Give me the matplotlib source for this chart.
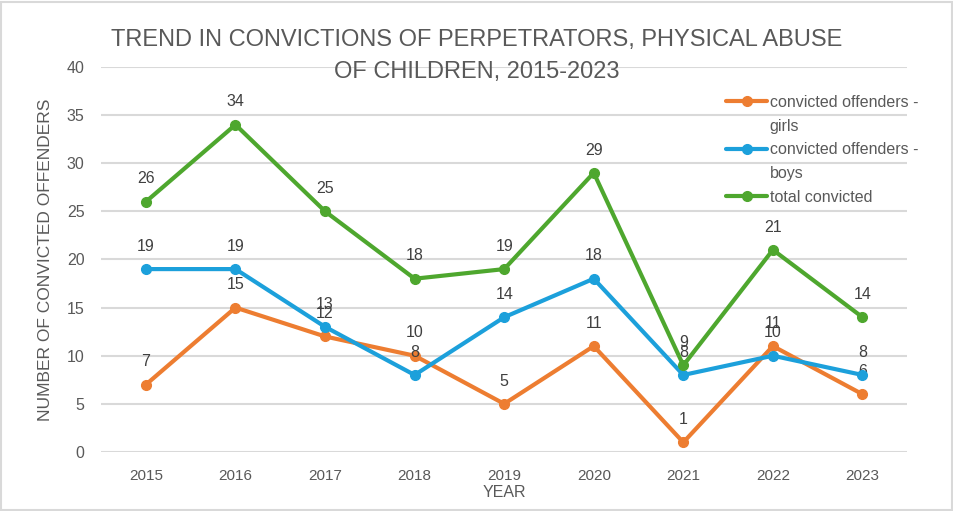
import matplotlib
matplotlib.use("Agg")
import matplotlib.pyplot as plt
from matplotlib.patches import Rectangle

years = ["2015", "2016", "2017", "2018", "2019", "2020", "2021", "2022", "2023"]
girls = [7, 15, 12, 10, 5, 11, 1, 11, 6]
boys = [19, 19, 13, 8, 14, 18, 8, 10, 8]
total = [26, 34, 25, 18, 19, 29, 9, 21, 14]

plt.rcParams["font.family"] = ["Liberation Sans", "DejaVu Sans"]

fig = plt.figure(figsize=(9.54, 5.11), dpi=100)
ax = fig.add_axes([0.106, 0.1155, 0.845, 0.7535])

# border around the whole chart
fig.patches.append(Rectangle((0.001, 0.002), 0.997, 0.995, transform=fig.transFigure,
                             fill=False, edgecolor="#d9d9d9", linewidth=1.5))

series = [
    (girls, "#ED7D31", "convicted offenders -\ngirls"),
    (boys, "#1CA0DB", "convicted offenders -\nboys"),
    (total, "#4EA72E", "total convicted"),
]

x = list(range(len(years)))
handles, labels = [], []
for vals, col, lab in series:
    ln, = ax.plot(x, vals, color=col, linewidth=3, marker="o", markersize=7,
                  solid_capstyle="round", zorder=3)
    for xi, v in zip(x, vals):
        ax.annotate(str(v), (xi, v), xytext=(0, 11), textcoords="offset points",
                    ha="center", va="bottom", fontsize=11.5, color="#404040")
    # excel wraps the legend text, handle stays on the first line
    parts = lab.split("\n")
    handles.append(ln)
    labels.append(parts[0])
    for p in parts[1:]:
        handles.append(Rectangle((0, 0), 1, 1, visible=False))
        labels.append(p)

ax.set_xlim(-0.5, len(years) - 0.5)
ax.set_ylim(0, 40)
ax.set_yticks(range(0, 41, 5))
ax.set_xticks(x)
ax.set_xticklabels(years)
ax.tick_params(length=0, labelsize=11, labelcolor="#595959", pad=12)
ax.tick_params(axis="y", pad=12, labelsize=11.5)
ax.grid(axis="y", color="#d9d9d9", linewidth=1.5)
ax.set_axisbelow(True)
for s in ax.spines.values():
    s.set_visible(False)

ax.set_xlabel("YEAR", fontsize=11.5, color="#595959", labelpad=2)
ax.set_ylabel("NUMBER OF CONVICTED OFFENDERS", fontsize=12.5, color="#595959", labelpad=10)

fig.text(0.5, 0.944, "TREND IN CONVICTIONS OF PERPETRATORS, PHYSICAL ABUSE\nOF CHILDREN, 2015-2023",
         ha="center", va="top", fontsize=17, color="#595959", linespacing=1.6)

leg = ax.legend(handles, labels, loc="upper left", bbox_to_anchor=(0.757, 0.965), frameon=False,
                fontsize=11.5, handlelength=2.6, handletextpad=0.15, labelspacing=0.55,
                labelcolor="#595959")

fig.savefig("out.png", dpi=100)
